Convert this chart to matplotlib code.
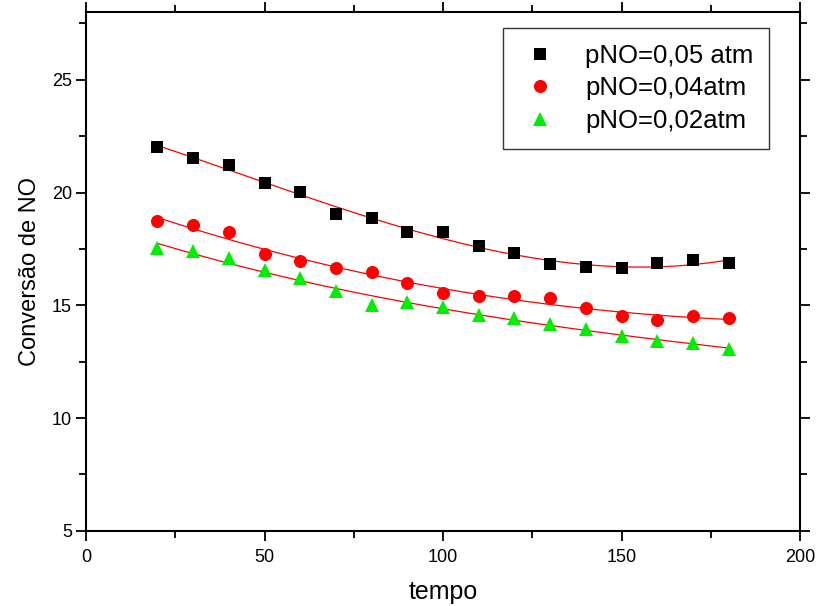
import matplotlib
matplotlib.use("Agg")
import matplotlib.pyplot as plt
from matplotlib.ticker import MultipleLocator
import numpy as np

plt.rcParams["font.family"] = ["Liberation Sans", "DejaVu Sans"]

# ── Data ──────────────────────────────────────────────────────────────────────
tempo = [20, 30, 40, 50, 60, 70, 80, 90, 100, 110, 120, 130, 140, 150, 160, 170, 180]

conv_005 = [22.0, 21.55, 21.2, 20.44, 20.04, 19.03, 18.85, 18.23, 18.27,
            17.65, 17.3, 16.81, 16.68, 16.64, 16.86, 16.99, 16.86]
conv_004 = [18.72, 18.54, 18.27, 17.26, 16.95, 16.64, 16.46, 16.0, 15.56,
            15.41, 15.43, 15.34, 14.9, 14.51, 14.35, 14.51, 14.45]
conv_002 = [17.53, 17.4, 17.09, 16.57, 16.2, 15.62, 15.0, 15.13, 14.92,
            14.59, 14.44, 14.19, 13.94, 13.62, 13.42, 13.33, 13.08]

labels = ["pNO=0,05 atm", "pNO=0,04atm", "pNO=0,02atm"]

FIT_COLOR = "#ff0000"

fig = plt.figure(figsize=(8.19, 6.06), dpi=100)
ax = fig.add_axes([0.105, 0.124, 0.872, 0.856])

x = np.array(tempo)
xs = np.linspace(min(tempo), max(tempo), 200)

series = [
    (conv_005, "s", "#000000", 8.6),
    (conv_004, "o", "#ff0000", 9.4),
    (conv_002, "^", "#00ee00", 10.0),
]

for (vals, mk, col, ms), lab in zip(series, labels):
    ax.plot(tempo, vals, linestyle="none", marker=mk, color=col,
            markersize=ms, markeredgewidth=0, label=lab, zorder=3)
    # polynomial fit through the points (red line)
    coef = np.polyfit(x, vals, 3)
    ax.plot(xs, np.polyval(coef, xs), color=FIT_COLOR, linewidth=0.9, zorder=2)

ax.set_xlim(0, 200)
ax.set_ylim(5, 28)
ax.xaxis.set_major_locator(MultipleLocator(50))
ax.xaxis.set_minor_locator(MultipleLocator(25))
ax.yaxis.set_major_locator(MultipleLocator(5))
ax.yaxis.set_minor_locator(MultipleLocator(2.5))

for sp in ax.spines.values():
    sp.set_linewidth(1.5)

ax.tick_params(which="major", direction="out", length=7, width=1.3,
               labelsize=13, pad=3)
ax.tick_params(which="minor", direction="out", length=5, width=1.3)
ax.tick_params(axis="x", which="major", pad=6)
ax.tick_params(which="both", top=True, right=True)
ax.tick_params(axis="x", which="both", labeltop=False)
ax.tick_params(axis="y", which="both", labelright=False)

ax.set_xlabel("tempo", fontsize=18, labelpad=10)
ax.set_ylabel("Conversão de NO", fontsize=17, labelpad=8)

leg = ax.legend(loc="upper right", bbox_to_anchor=(0.957, 0.969),
                fontsize=18.5, frameon=True, fancybox=False,
                edgecolor="black", handlelength=1.6, handletextpad=0.96,
                labelspacing=0.32, borderpad=0.62, borderaxespad=0)
leg.get_frame().set_linewidth(1.0)

fig.savefig("out.png", dpi=100)
